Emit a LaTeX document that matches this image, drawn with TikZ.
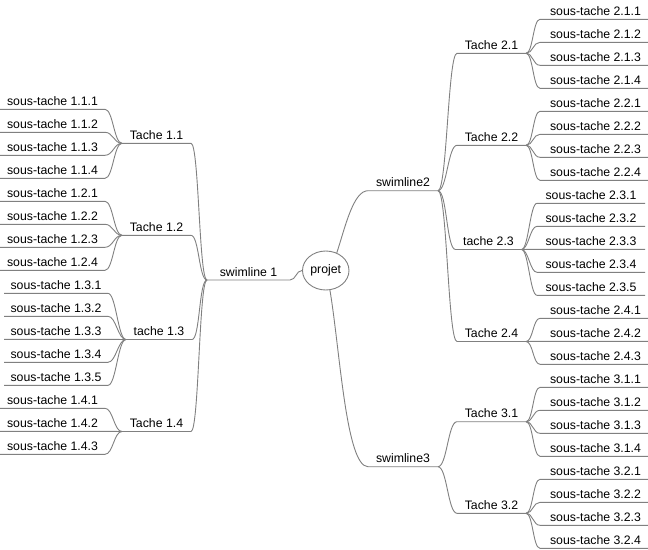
\documentclass[tikz,border=0pt]{standalone}
\usepackage{fontspec}
\setmainfont{Liberation Sans}
\usepackage{tikz}
\usetikzlibrary{shapes.geometric}
\definecolor{branch}{RGB}{128,128,128}
\tikzset{ln/.style = {draw=branch, line width=0.9pt}}
\tikzset{lbl/.style = {font=\fontsize{12.3pt}{14pt}\selectfont, anchor=south,
                       inner xsep=0pt, inner ysep=4pt, outer sep=0pt,
                       text height=9pt, text depth=0pt}}
\tikzset{oval/.style = {ellipse, draw=branch, line width=0.9pt, inner sep=0pt,
                        minimum width=46.5pt, minimum height=39pt,
                        font=\fontsize{12.3pt}{14pt}\selectfont}}

\begin{document}
\begin{tikzpicture}[x=1pt, y=-1pt]
      \useasboundingbox (0,0) rectangle (648,549);
      % Draw centre
      \node[oval] (projet) at (325.75,270.5) {projet};

      % Draw swimline 1
      \node[lbl, minimum width=83pt] (sw1) at (248.5,280) {swimline 1};
      \node[lbl, minimum width=69pt] (t11) at (156.5,143.3) {Tache 1.1};
      \node[lbl, minimum width=69pt] (t12) at (156.5,235.3) {Tache 1.2};
      \node[lbl, minimum width=66pt] (t13) at (159,339.5) {tache 1.3};
      \node[lbl, minimum width=69pt] (t14) at (156.5,431.5) {Tache 1.4};
      \foreach \i in {1,...,4}
        \node[lbl, minimum width=105pt] (s11\i) at (52.5,{86.3+23*\i}) {sous-tache 1.1.\i};
      \foreach \i in {1,...,4}
        \node[lbl, minimum width=105pt] (s12\i) at (52.5,{178.3+23*\i}) {sous-tache 1.2.\i};
      \foreach \i in {1,...,5}
        \node[lbl, minimum width=104pt] (s13\i) at (56,{270.3+23*\i}) {sous-tache 1.3.\i};
      \foreach \i in {1,...,3}
        \node[lbl, minimum width=105pt] (s14\i) at (52.5,{385.3+23*\i}) {sous-tache 1.4.\i};

      % Draw swimline2 and swimline3
      \node[lbl, minimum width=70pt] (sw2) at (403,190.7) {swimline2};
      \node[lbl, minimum width=70pt] (sw3) at (403,466.7) {swimline3};
      \node[lbl, minimum width=69pt] (t21) at (491.5,53.3) {Tache 2.1};
      \node[lbl, minimum width=69pt] (t22) at (491.5,145.3) {Tache 2.2};
      \node[lbl, minimum width=66pt] (t23) at (488.5,249.5) {tache 2.3};
      \node[lbl, minimum width=69pt] (t24) at (491.5,341.5) {Tache 2.4};
      \node[lbl, minimum width=69pt] (t31) at (491.5,421.7) {Tache 3.1};
      \node[lbl, minimum width=69pt] (t32) at (491.5,513.3) {Tache 3.2};
      \foreach \i in {1,...,4}
        \node[lbl, minimum width=111pt] (s21\i) at (595.5,{-3.7+23*\i}) {sous-tache 2.1.\i};
      \foreach \i in {1,...,4}
        \node[lbl, minimum width=111pt] (s22\i) at (595.5,{88.3+23*\i}) {sous-tache 2.2.\i};
      \foreach \i in {1,...,5}
        \node[lbl, minimum width=108pt] (s23\i) at (591,{180.3+23*\i}) {sous-tache 2.3.\i};
      \foreach \i in {1,...,3}
        \node[lbl, minimum width=111pt] (s24\i) at (595.5,{295.3+23*\i}) {sous-tache 2.4.\i};
      \foreach \i in {1,...,4}
        \node[lbl, minimum width=111pt] (s31\i) at (595.5,{364.3+23*\i}) {sous-tache 3.1.\i};
      \foreach \i in {1,...,4}
        \node[lbl, minimum width=111pt] (s32\i) at (595.5,{456.3+23*\i}) {sous-tache 3.2.\i};

      % Draw branches
      \draw[ln] (projet.west) .. controls +(-6,0) and +(6,0) .. (sw1.south east) -- (sw1.south west);
      \draw[ln] (projet.58) .. controls +(8,-24) and +(-15,0) .. (sw2.south west) -- (sw2.south east);
      \draw[ln] (projet.-78) .. controls +(10,59) and +(-22,0) .. (sw3.south west) -- (sw3.south east);
      \foreach \tk in {11,12,13,14}
        \draw[ln] (sw1.south west) .. controls +(-8,0) and +(8,0) .. (t\tk.south east) -- (t\tk.south west);
      \foreach \tk in {21,22,23,24}
        \draw[ln] (sw2.south east) .. controls +(9,0) and +(-9,0) .. (t\tk.south west) -- (t\tk.south east);
      \foreach \tk in {31,32}
        \draw[ln] (sw3.south east) .. controls +(9,0) and +(-9,0) .. (t\tk.south west) -- (t\tk.south east);
      \foreach \tk/\nb in {11/4,12/4,13/5,14/3}
        \foreach \i in {1,...,\nb}
          \draw[ln] (t\tk.south west) .. controls +(-8,0) and +(8,0) .. (s\tk\i.south east) -- (s\tk\i.south west);
      \foreach \tk/\nb in {21/4,22/4,23/5,24/3,31/4,32/4}
        \foreach \i in {1,...,\nb}
          \draw[ln] (t\tk.south east) .. controls +(7,0) and +(-7,0) .. (s\tk\i.south west) -- (s\tk\i.south east);
\end{tikzpicture}
\end{document}
